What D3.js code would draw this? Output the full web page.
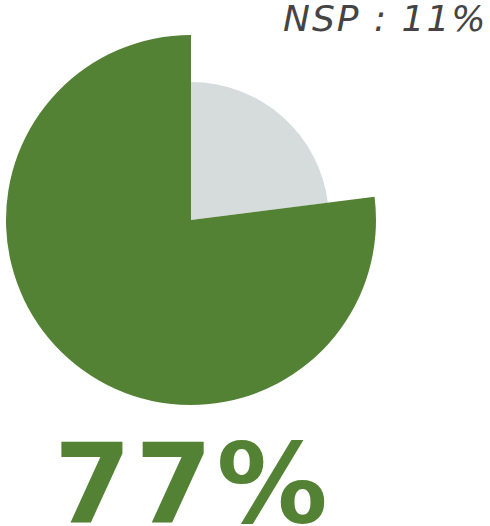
<!DOCTYPE html>
<html>
<head>
<meta charset="utf-8">
<script src="https://cdn.jsdelivr.net/npm/d3@7"></script>
<style>
  body { margin: 0; background: #fff; }
  svg { display: block; }
</style>
</head>
<body>
<div id="chart"></div>
<script>
// answers, drawn clockwise from 12 o'clock
const categories = ["Non / NSP", "Oui"];
const values = [23, 77];
const nsp = 11;

const width = 490, height = 526;
const cx = 191, cy = 220;

const color = d3.scaleOrdinal().domain(categories).range(["#d6dcdc", "#548235"]);
const radius = d3.scaleOrdinal().domain(categories).range([138, 185]);

let svg = d3.select("#chart").append("svg")
    .attr("width", width)
    .attr("height", height);

let pie = d3.pie().sort(null).value(d => d.value);
let arcs = pie(categories.map((c, i) => ({name: c, value: values[i]})));

svg.append("g")
    .attr("transform", `translate(${cx},${cy})`)
    .selectAll("path")
    .data(arcs)
    .enter().append("path")
    .attr("d", d => d3.arc().innerRadius(0).outerRadius(radius(d.data.name))(d))
    .style("fill", d => color(d.data.name));

svg.append("text")
    .attr("x", 283)
    .attr("y", 31)
    .style("font-family", "DejaVu Sans")
    .style("font-style", "italic")
    .style("font-size", "36px")
    .style("letter-spacing", "2px")
    .style("fill", "#444")
    .text(`NSP : ${nsp}%`);

svg.append("text")
    .attr("x", 54)
    .attr("y", 522)
    .style("font-family", "DejaVu Sans")
    .style("font-weight", "bold")
    .style("font-size", "111px")
    .style("letter-spacing", "4px")
    .style("fill", color("Oui"))
    .text(`${values[1]}%`);
</script>
</body>
</html>
